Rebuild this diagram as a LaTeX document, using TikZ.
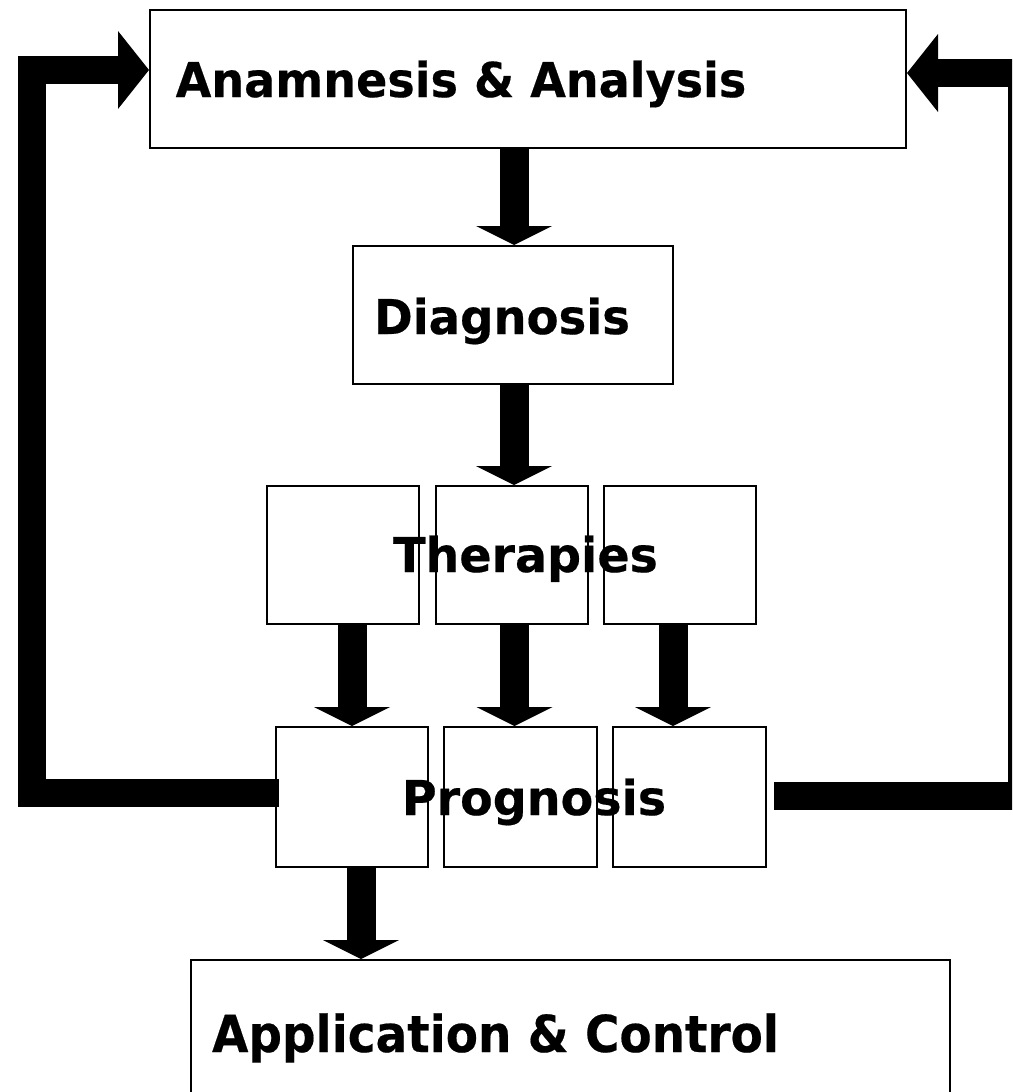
\documentclass[tikz,border=0pt]{standalone}
\usepackage{fontspec}
\setmainfont{DejaVu Sans}[BoldFeatures={FakeBold=0.4}]
\usetikzlibrary{arrows.meta}
\newcommand{\narrow}[2]{\scalebox{#1}[1]{#2}}
\begin{document}
\begin{tikzpicture}[x=1pt,y=-1pt,
  box/.style={draw,line width=2pt,fill=white,inner sep=0pt},
  lbl/.style={font=\fontsize{48}{52}\selectfont\bfseries,inner sep=0pt,anchor=base},
  fat/.style={line width=29pt,-{Triangle[width=76pt,length=19pt,line width=0pt]}},
  fb/.style={line width=28pt,line join=miter,-{Triangle[width=78pt,length=31pt,line width=0pt]}}]
\useasboundingbox (0,0) rectangle (1012,1092);
\clip (0,0) rectangle (1012,1092);
\fill[white] (0,0) rectangle (1012,1092);
% boxes
\node[box,minimum width=756pt,minimum height=138pt] (A) at (528,79) {};
\node[box,minimum width=320pt,minimum height=138pt] (D) at (513,315) {};
\node[box,minimum width=152pt,minimum height=138pt] (T1) at (342.5,555) {};
\node[box,minimum width=152pt,minimum height=138pt] (T2) at (511.5,555) {};
\node[box,minimum width=152pt,minimum height=138pt] (T3) at (680,555) {};
\node[box,minimum width=152pt,minimum height=140pt] (P1) at (352,797) {};
\node[box,minimum width=153pt,minimum height=140pt] (P2) at (520.5,797) {};
\node[box,minimum width=153pt,minimum height=140pt] (P3) at (689.5,797) {};
\node[box,minimum width=759pt,minimum height=180pt] (C) at (570.5,1050) {};
% labels
\node[lbl] (tA) at (461,97) {\narrow{0.96}{Anamnesis \& Analysis}};
\node[lbl] (tD) at (502,334) {\narrow{0.97}{Diagnosis}};
\node[lbl] (tT) at (525.5,572) {\narrow{0.99}{Therapies}};
\node[lbl] (tP) at (534,815) {\narrow{0.99}{Prognosis}};
\node[lbl,font=\fontsize{51}{54}\selectfont\bfseries] (tC) at (495.5,1052) {\narrow{0.92}{Application \& Control}};
% down arrows
\draw[fat] ([xshift=1pt]D.north |- A.south) -- ([xshift=1pt]D.north);
\draw[fat] ([xshift=1pt]D.south) -- ([xshift=1pt]D.south |- T2.north);
\draw[fat] (P1.north |- T1.south) -- (P1.north);
\draw[fat] ([xshift=3pt]T2.south) -- ([xshift=3pt]T2.south |- P2.north);
\draw[fat] ([xshift=-7pt]T3.south) -- ([xshift=-7pt]T3.south |- P3.north);
\draw[fat] ([xshift=9pt]P1.south) -- ([xshift=9pt]P1.south |- C.north);
% feedback loops
\coordinate (Ltop) at (32,70);
\coordinate (Rtop) at (1022,73);
\draw[fb] ([xshift=4pt,yshift=4pt]P1.west) -| (Ltop) -- ([yshift=9pt]A.west);
\draw[fb] ([xshift=7pt,yshift=1pt]P3.east) -| (Rtop) -- ([yshift=6pt]A.east);
\end{tikzpicture}
\end{document}
